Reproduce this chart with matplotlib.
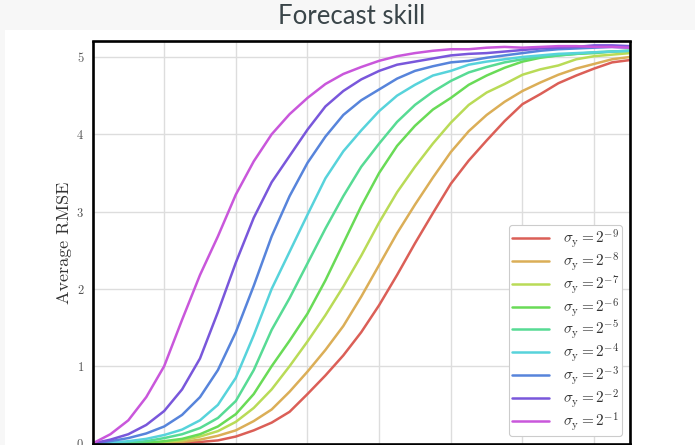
import matplotlib
matplotlib.use("Agg")
import matplotlib.pyplot as plt
from matplotlib.patches import Rectangle
import seaborn as sns

plt.rcParams['font.family'] = 'serif'
plt.rcParams['font.serif'] = ['cmr10', 'DejaVu Serif']
plt.rcParams['mathtext.fontset'] = 'cm'
plt.rcParams['axes.formatter.use_mathtext'] = True

lead_time = [0, 2.5, 5, 7.5, 10, 12.5, 15, 17.5, 20, 22.5, 25, 27.5, 30, 32.5, 35,
             37.5, 40, 42.5, 45, 47.5, 50, 52.5, 55, 57.5, 60, 62.5, 65, 67.5, 70, 72.5, 75]

rmse_m9 = [0, 0, 0, 0, 0, 0.01, 0.02, 0.04, 0.09, 0.17, 0.27, 0.41, 0.64, 0.88, 1.14, 1.44,
           1.79, 2.18, 2.59, 2.98, 3.36, 3.66, 3.92, 4.17, 4.39, 4.52, 4.66, 4.76, 4.85, 4.93, 4.96]
rmse_m8 = [0, 0, 0, 0, 0.01, 0.02, 0.05, 0.10, 0.17, 0.29, 0.44, 0.67, 0.93, 1.21, 1.52, 1.90,
           2.31, 2.72, 3.09, 3.44, 3.77, 4.04, 4.25, 4.42, 4.56, 4.67, 4.77, 4.85, 4.91, 4.97, 5.00]
rmse_m7 = [0, 0, 0, 0, 0.02, 0.04, 0.09, 0.16, 0.28, 0.46, 0.70, 1.00, 1.32, 1.66, 2.03, 2.43,
           2.86, 3.25, 3.58, 3.88, 4.15, 4.38, 4.54, 4.65, 4.77, 4.84, 4.89, 4.97, 5.01, 5.03, 5.05]
rmse_m6 = [0, 0, 0, 0.01, 0.03, 0.06, 0.12, 0.22, 0.38, 0.64, 1.00, 1.33, 1.68, 2.11, 2.59, 3.07,
           3.50, 3.85, 4.11, 4.32, 4.47, 4.64, 4.76, 4.86, 4.94, 4.99, 5.02, 5.04, 5.05, 5.07, 5.08]
rmse_m5 = [0, 0, 0.01, 0.03, 0.07, 0.12, 0.20, 0.33, 0.55, 0.95, 1.47, 1.88, 2.33, 2.78, 3.20, 3.58,
           3.88, 4.16, 4.38, 4.55, 4.69, 4.80, 4.87, 4.93, 4.97, 5.00, 5.02, 5.04, 5.06, 5.07, 5.08]
rmse_m4 = [0, 0.01, 0.03, 0.06, 0.11, 0.18, 0.30, 0.50, 0.85, 1.40, 2.00, 2.48, 2.96, 3.43, 3.78, 4.05,
           4.30, 4.50, 4.64, 4.76, 4.82, 4.90, 4.94, 4.97, 5.00, 5.02, 5.04, 5.05, 5.06, 5.07, 5.08]
rmse_m3 = [0, 0.03, 0.07, 0.13, 0.22, 0.37, 0.60, 0.95, 1.44, 2.04, 2.68, 3.20, 3.63, 3.97, 4.25, 4.44,
           4.58, 4.72, 4.82, 4.88, 4.93, 4.95, 4.99, 5.02, 5.05, 5.08, 5.10, 5.11, 5.12, 5.13, 5.12]
rmse_m2 = [0, 0.05, 0.12, 0.24, 0.42, 0.70, 1.10, 1.70, 2.34, 2.92, 3.38, 3.72, 4.06, 4.36, 4.56, 4.71,
           4.82, 4.90, 4.94, 4.98, 5.02, 5.04, 5.05, 5.07, 5.09, 5.11, 5.12, 5.13, 5.15, 5.15, 5.14]
rmse_m1 = [0, 0.12, 0.30, 0.60, 1.00, 1.60, 2.18, 2.68, 3.22, 3.65, 4.00, 4.26, 4.47, 4.65, 4.78, 4.87,
           4.95, 5.01, 5.05, 5.08, 5.10, 5.10, 5.12, 5.13, 5.12, 5.13, 5.14, 5.14, 5.13, 5.13, 5.12]

series = [rmse_m9, rmse_m8, rmse_m7, rmse_m6, rmse_m5, rmse_m4, rmse_m3, rmse_m2, rmse_m1]
exponents = [-9, -8, -7, -6, -5, -4, -3, -2, -1]
labels = [r'$\sigma_{\mathrm{y}} = 2^{%d}$' % e for e in exponents]
x_ticks = [0, 10, 20, 30, 40, 50, 60, 70]
y_ticks = [0, 1, 2, 3, 4, 5]

colors = sns.color_palette("hls", 10)[:9]

W, H = 695, 445
fig = plt.figure(figsize=(W / 100, H / 100), dpi=100, facecolor='#f7f7f7')
fig.add_artist(Rectangle((5 / W, 0), 1 - 5 / W, (H - 30) / H, transform=fig.transFigure,
                         facecolor='white', edgecolor='none', zorder=0))
fig.text(352 / W, 1 - 17 / H, "Forecast skill", ha='center', va='center', fontsize=18.5,
         color='#3a4549', family='Lato', fontweight='normal')

ax = fig.add_axes([92.5 / W, 1.5 / H, (630 - 92.5) / W, (443.5 - 41.5) / H])
ax.set_facecolor('white')
for y, c, lab in zip(series, colors, labels):
    ax.plot(lead_time, y, color=c, lw=1.8, label=lab, solid_capstyle='round',
            solid_joinstyle='round')

ax.set_xlim(0, 75)
ax.set_ylim(0, 5.2)
ax.set_xticks(x_ticks)
ax.set_xticklabels([])
ax.set_yticks(y_ticks)
ax.grid(True, color='#dddddd', lw=1.0)
ax.set_axisbelow(True)
for s in ax.spines.values():
    s.set_color('black')
    s.set_linewidth(1.9)
ax.tick_params(length=0, labelsize=9, labelcolor='#555555', pad=6)
ax.set_ylabel('Average RMSE', fontsize=13, color='#333333', labelpad=3)

leg = ax.legend(loc='lower right', fontsize=11, frameon=True, fancybox=True, framealpha=1,
                edgecolor='#cccccc', handlelength=2.4, handletextpad=0.95, labelspacing=0.02,
                borderaxespad=0.5, borderpad=0.18, labelcolor='#333333')
leg.get_frame().set_linewidth(0.8)

fig.savefig('out.png', dpi=100, facecolor=fig.get_facecolor())
